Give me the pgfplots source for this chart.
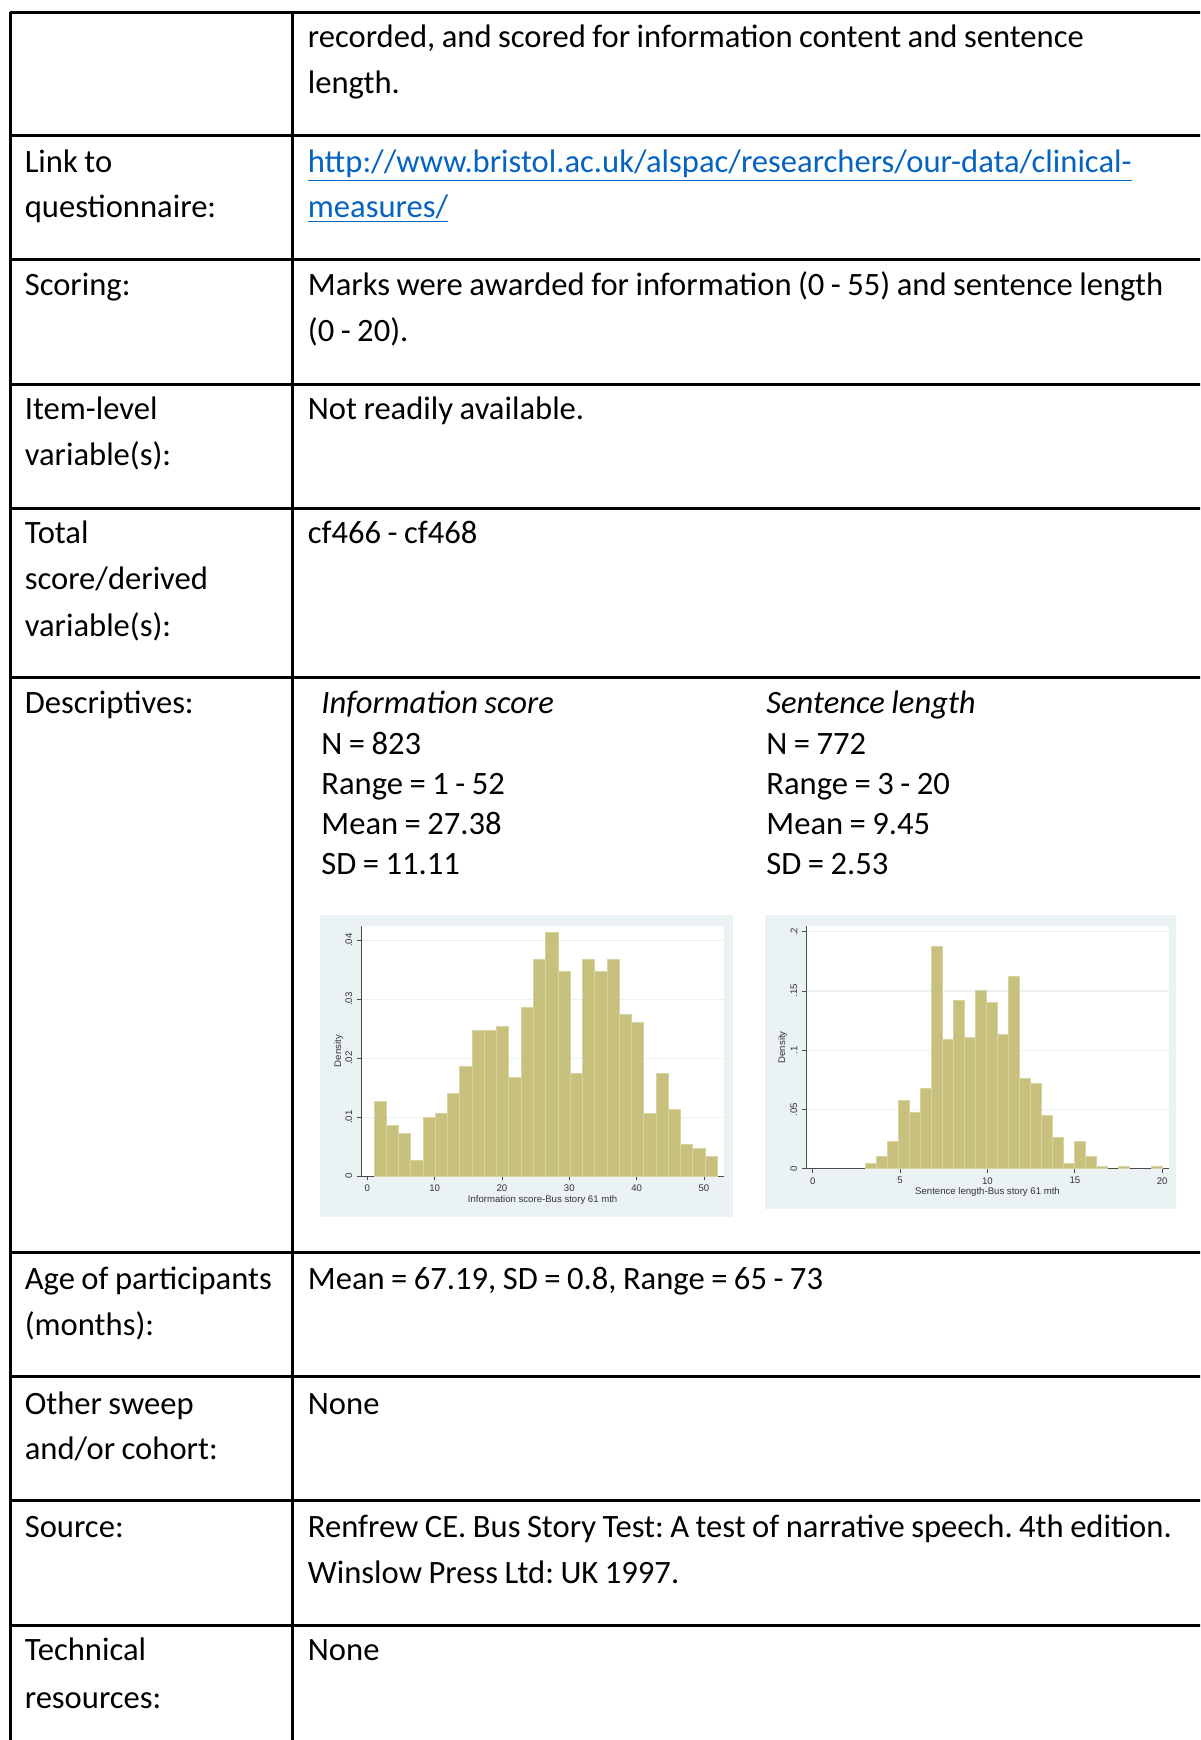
\documentclass[border=0pt]{standalone}
\usepackage{pgfplots}
\pgfplotsset{compat=1.18}
\usepackage{fontspec}
\setmainfont{Carlito}[WordSpace=0.88]
\newfontfamily\statafont{Liberation Sans}
\definecolor{khaki}{RGB}{200,192,125}
\definecolor{khakiedge}{RGB}{216,211,162}
\definecolor{statabg}{RGB}{234,242,243}
\definecolor{linkblue}{RGB}{5,99,193}
\frenchspacing

% text at pixel position (x, baseline y)
\newcommand\tx[3]{\node[anchor=base west,inner sep=0pt,font=\fontsize{16.3}{18}\selectfont] at (#1,#2+3) {#3};}

\pgfplotsset{stata/.style={
    scale only axis,
    axis x line*=bottom, axis y line*=left,
    axis line style={-, draw=black!70, line width=0.4pt},
    axis background/.style={fill=white},
    tick align=outside, major tick length=2pt,
    tick style={draw=black!70, line width=0.4pt},
    ymajorgrids, major grid style={draw=statabg, line width=0.6pt},
    scaled ticks=false,
    /pgf/number format/assume math mode=true,
    tick label style={font=\statafont\fontsize{4.8}{5}\selectfont, text=black!80},
    xticklabel style={anchor=north, inner sep=0pt, outer sep=2.3pt},
    yticklabel style={rotate=90, anchor=south, inner sep=0pt, outer sep=2.5pt},
    label style={font=\statafont\fontsize{4.8}{5}\selectfont, text=black!80},
    ymin=0,
}}

\begin{document}
\frenchspacing
\begin{tikzpicture}
\useasboundingbox (0,0) rectangle (600pt,-870pt);
\fill[white] (0,0) rectangle (600pt,-870pt);
\clip (0,0) rectangle (600pt,-870pt);

\begin{scope}[x=0.5pt,y=-0.5pt]
% table rules
\foreach \yy in {12.7,135.4,259.8,384.1,508.4,677.2,1252.2,1376.5,1500.9,1625.2}
  \draw[line width=1.5pt] (10,\yy) -- (1202,\yy);
\draw[line width=1.5pt] (10,12) -- (10,1745);
\draw[line width=1.5pt] (292,12) -- (292,1745);

\tx{307.5}{44.6}{recorded, and scored for information content and sentence}
\tx{307.5}{90.1}{length.}

\tx{24.4}{169}{Link to}
\tx{24.4}{214.5}{questionnaire:}
\tx{307.5}{169}{\color{linkblue}\underline{http://www.bristol.ac.uk/alspac/researchers/our-data/clinical-}}
\tx{307.5}{214.5}{\color{linkblue}\underline{measures/}}

\tx{24.4}{292.2}{Scoring:}
\tx{307.5}{292.2}{Marks were awarded for information (0 - 55) and sentence length}
\tx{307.5}{338.8}{(0 - 20).}

\tx{24.4}{416.5}{Item-level}
\tx{24.4}{462}{variable(s):}
\tx{307.5}{416.5}{Not readily available.}

\tx{24.4}{540.8}{Total}
\tx{24.4}{586.4}{score/derived}
\tx{24.4}{633}{variable(s):}
\tx{307.5}{540.8}{cf466 - cf468}

\tx{24.4}{710.7}{Descriptives:}
\tx{321}{710.7}{\itshape Information score}
\tx{321}{751.8}{N = 823}
\tx{321}{791.7}{Range = 1 - 52}
\tx{321}{831.7}{Mean = 27.38}
\tx{321}{871.7}{SD = 11.11}
\tx{766}{710.7}{\itshape Sentence length}
\tx{766}{751.8}{N = 772}
\tx{766}{791.7}{Range = 3 - 20}
\tx{766}{831.7}{Mean = 9.45}
\tx{766}{871.7}{SD = 2.53}

\tx{24.4}{1286.8}{Age of participants}
\tx{24.4}{1332.4}{(months):}
\tx{307.5}{1286.8}{Mean = 67.19, SD = 0.8, Range = 65 - 73}

\tx{24.4}{1411.2}{Other sweep}
\tx{24.4}{1456.7}{and/or cohort:}
\tx{307.5}{1411.2}{None}

\tx{24.4}{1534.4}{Source:}
\tx{307.5}{1534.4}{Renfrew CE. Bus Story Test: A test of narrative speech. 4th edition.}
\tx{307.5}{1580}{Winslow Press Ltd: UK 1997.}

\tx{24.4}{1657.6}{Technical}
\tx{24.4}{1705.4}{resources:}
\tx{307.5}{1657.6}{None}

% graph regions of the two histograms
\fill[statabg] (320,915) rectangle (733,1217);
\fill[statabg] (765,915) rectangle (1176,1209);
\end{scope}

% Information score histogram
\begin{axis}[stata,
    at={(361.3*0.5pt,-1176.3*0.5pt)}, anchor=south west,
    width=181.35pt, height=125.15pt,
    xmin=-0.89, xmax=52.97, ymax=0.04242,
    xtick={0,10,20,30,40,50},
    ytick={0,0.01,0.02,0.03,0.04}, yticklabels={0,.01,.02,.03,.04},
    xlabel={Information score-Bus story 61 mth}, ylabel={Density},
    xlabel style={at={(axis description cs:0.5,-0.093)}, anchor=center},
    ylabel style={at={(axis description cs:-0.0623,0.5)}, anchor=center},
]
\addplot[ybar interval, fill=khaki, draw=khakiedge, line width=0.5pt] coordinates {
(1,0.012677) (2.8214,0.008674) (4.6429,0.007339) (6.4643,0.002669)
(8.2857,0.010008) (10.1071,0.010676) (11.9286,0.014012) (13.75,0.018682)
(15.5714,0.024687) (17.3929,0.024687) (19.2143,0.025354) (21.0357,0.016681)
(22.8571,0.028690) (24.6786,0.036697) (26.5,0.041368) (28.3214,0.034695)
(30.1429,0.017348) (31.9643,0.036697) (33.7857,0.034695) (35.6071,0.036697)
(37.4286,0.027356) (39.25,0.026022) (41.0714,0.010676) (42.8929,0.017348)
(44.7143,0.011343) (46.5357,0.005338) (48.3571,0.004671) (50.1786,0.003336)
(52,0)
};
\end{axis}

% Sentence length histogram
\begin{axis}[stata,
    at={(806.3*0.5pt,-1168.7*0.5pt)}, anchor=south west,
    width=181.2pt, height=121.35pt,
    xmin=-0.366, xmax=20.37, ymax=0.2048,
    xtick={0,5,10,15,20},
    ytick={0,0.05,0.1,0.15,0.2}, yticklabels={0,.05,.1,.15,.2},
    xlabel={Sentence length-Bus story 61 mth}, ylabel={Density},
    xlabel style={at={(axis description cs:0.5,-0.095)}, anchor=center},
    ylabel style={at={(axis description cs:-0.0651,0.5)}, anchor=center},
]
\addplot[ybar interval, fill=khaki, draw=khakiedge, line width=0.5pt] coordinates {
(3,0.004115) (3.6296,0.010287) (4.2593,0.022631) (4.8889,0.057604)
(5.5185,0.047318) (6.1481,0.067891) (6.7778,0.187214) (7.4074,0.109037)
(8.0370,0.141954) (8.6667,0.111094) (9.2963,0.150183) (9.9259,0.139896)
(10.5556,0.113151) (11.1852,0.162527) (11.8148,0.076120) (12.4444,0.072006)
(13.0741,0.045261) (13.7037,0.026745) (14.3333,0.004115) (14.9630,0.022631)
(15.5926,0.010287) (16.2222,0.002057) (16.8519,0)
};
\addplot[ybar interval, fill=khaki, draw=khakiedge, line width=0.5pt] coordinates {
(17.4815,0.002057) (18.1111,0)
};
\addplot[ybar interval, fill=khaki, draw=khakiedge, line width=0.5pt] coordinates {
(19.3704,0.002057) (20,0)
};
\end{axis}
\end{tikzpicture}
\end{document}
